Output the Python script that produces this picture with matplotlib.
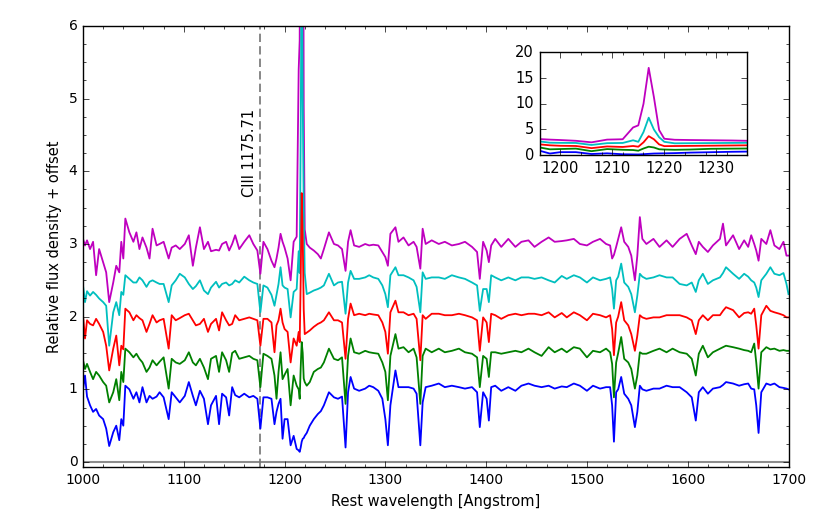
import matplotlib
matplotlib.use("Agg")
import matplotlib.pyplot as plt
from matplotlib.ticker import MultipleLocator, ScalarFormatter

plt.style.use('classic')
plt.rcParams['font.family'] = ['DejaVu Sans']
plt.rcParams['figure.facecolor'] = 'white'
plt.rcParams['savefig.facecolor'] = 'white'
plt.rcParams['axes.formatter.useoffset'] = False

# ---------------- data (offsets included) ----------------
wave = [1000, 1002, 1004, 1007, 1010, 1013, 1016, 1020, 1023, 1026, 1030, 1033, 1036, 1038, 1040, 1042, 1046, 1050, 1053, 1056,
        1059, 1063, 1066, 1069, 1073, 1076, 1080, 1085, 1088, 1092, 1096, 1101, 1105, 1109, 1112, 1116, 1120, 1124, 1127,
        1132, 1135, 1138, 1142, 1145, 1148, 1151, 1155, 1160, 1165, 1169, 1173, 1176, 1179, 1183, 1187, 1190, 1192, 1194, 1196,
        1198, 1200, 1203, 1206, 1209, 1212, 1214, 1215, 1216, 1217, 1218, 1219, 1220, 1222, 1225, 1229, 1233, 1236, 1239, 1244,
        1249, 1253, 1257,
        1260.5, 1263, 1265.5, 1269, 1274, 1280, 1284, 1288, 1293, 1297, 1300, 1302.5, 1305, 1310, 1313, 1318, 1323, 1328, 1331, 1334.7,
        1337, 1340, 1346, 1353, 1359, 1366, 1373, 1379, 1386, 1391, 1393.7, 1397, 1400.5, 1402.7, 1405, 1409, 1415, 1422, 1429, 1435,
        1442, 1448, 1455, 1462, 1468, 1475,
        1480, 1487, 1493, 1500, 1506, 1513, 1519, 1523, 1525, 1526.8, 1529, 1531, 1534, 1537, 1541, 1544, 1547.6, 1550, 1552.5, 1555,
        1559, 1566, 1572, 1579, 1585, 1592, 1599, 1604, 1608, 1611, 1615, 1620, 1625, 1632, 1635, 1638, 1645, 1651, 1656, 1660,
        1663, 1666, 1668, 1670.3, 1673, 1678, 1682, 1686, 1691, 1695, 1698, 1700]

flux_blue = [1.00, 1.19, 0.90, 0.78, 0.69, 0.73, 0.64, 0.59, 0.46, 0.22, 0.41, 0.50, 0.30, 0.59, 0.50, 1.05, 1.00, 0.87, 0.96, 0.82,
             1.03, 0.82, 0.91, 0.87, 0.90, 0.96, 0.89, 0.59, 0.96, 0.89, 0.82, 0.91, 1.10, 0.91, 0.78, 0.98, 0.87, 0.52, 0.78,
             0.91, 0.52, 0.94, 0.89, 0.64, 1.03, 0.92, 0.89, 0.94, 0.89, 0.91, 0.87, 0.46, 0.89, 0.89, 0.87, 0.52, 0.69, 0.80, 0.87,
             0.32, 0.59, 0.59, 0.23, 0.36, 0.18, 0.16, 0.14, 0.20, 0.28, 0.32, 0.33, 0.36, 0.40, 0.50, 0.59, 0.66, 0.70, 0.78, 0.96,
             0.89, 0.87, 0.90,
             0.20, 0.96, 1.17, 1.01, 0.98, 1.01, 1.05, 1.03, 0.98, 0.87, 0.59, 0.23, 0.78, 1.26, 1.03, 1.03, 1.03, 1.01, 0.94, 0.23,
             0.82, 1.03, 1.05, 1.08, 1.03, 1.05, 1.03, 1.01, 1.03, 0.96, 0.48, 0.96, 0.87, 0.57, 1.03, 1.05, 0.98, 1.03, 0.98, 1.05,
             1.08, 1.05, 1.03, 1.05, 1.01, 1.04,
             1.03, 1.08, 1.05, 0.98, 1.05, 1.01, 1.03, 1.03, 0.78, 0.28, 0.96, 1.00, 1.17, 0.94, 0.87, 0.78, 0.48, 0.69, 1.05, 1.00,
             0.98, 1.01, 1.01, 1.05, 1.03, 1.03, 0.96, 0.89, 0.57, 0.96, 1.03, 0.94, 1.01, 1.03, 1.06, 1.10, 1.08, 1.05, 1.07, 1.08,
             1.01, 1.00, 0.78, 0.40, 0.96, 1.08, 1.06, 1.08, 1.03, 1.02, 1.01, 1.00]

flux_green = [1.40, 1.28, 1.35, 1.24, 1.14, 1.24, 1.19, 1.10, 1.05, 0.82, 0.96, 1.14, 0.85, 1.24, 1.10, 1.56, 1.51, 1.44, 1.49, 1.42,
              1.37, 1.24, 1.30, 1.40, 1.33, 1.38, 1.44, 1.01, 1.42, 1.37, 1.35, 1.40, 1.51, 1.37, 1.33, 1.42, 1.30, 1.14, 1.42,
              1.46, 1.24, 1.51, 1.40, 1.24, 1.50, 1.53, 1.42, 1.44, 1.46, 1.42, 1.40, 1.03, 1.49, 1.46, 1.42, 1.19, 0.87, 1.24, 1.51,
              1.14, 1.20, 1.28, 0.78, 1.19, 1.05, 1.00, 0.87, 1.30, 1.65, 1.50, 1.15, 1.10, 1.05, 1.10, 1.24, 1.28, 1.30, 1.37, 1.56,
              1.42, 1.40, 1.44,
              0.80, 1.46, 1.70, 1.51, 1.49, 1.53, 1.51, 1.50, 1.49, 1.37, 1.24, 0.85, 1.46, 1.76, 1.56, 1.58, 1.51, 1.56, 1.44, 0.80,
              1.46, 1.56, 1.51, 1.56, 1.51, 1.53, 1.56, 1.51, 1.49, 1.44, 1.03, 1.46, 1.42, 1.17, 1.51, 1.51, 1.49, 1.51, 1.53, 1.51,
              1.56, 1.51, 1.46, 1.58, 1.51, 1.56,
              1.51, 1.58, 1.56, 1.44, 1.53, 1.51, 1.56, 1.51, 1.35, 0.89, 1.37, 1.50, 1.72, 1.42, 1.37, 1.28, 1.01, 1.19, 1.51, 1.49,
              1.49, 1.53, 1.56, 1.51, 1.56, 1.51, 1.49, 1.42, 1.19, 1.49, 1.60, 1.44, 1.51, 1.56, 1.58, 1.60, 1.58, 1.56, 1.54, 1.53,
              1.51, 1.63, 1.37, 1.01, 1.51, 1.58, 1.55, 1.56, 1.53, 1.54, 1.53, 1.53]

flux_red = [2.02, 1.70, 1.95, 1.90, 1.88, 1.97, 1.90, 1.79, 1.60, 1.26, 1.56, 1.74, 1.33, 1.60, 1.55, 2.11, 2.06, 1.95, 2.02, 1.98,
            1.95, 1.79, 1.90, 2.02, 1.92, 1.95, 1.97, 1.56, 2.02, 1.95, 1.98, 2.02, 2.04, 1.95, 1.88, 1.90, 1.97, 1.79, 1.90,
            1.97, 1.81, 2.06, 1.95, 1.88, 1.90, 2.02, 1.95, 1.97, 1.99, 1.97, 1.95, 1.60, 1.97, 1.97, 1.92, 1.51, 1.88, 1.95, 2.11,
            1.92, 1.83, 1.79, 1.37, 1.70, 1.60, 1.79, 1.65, 2.50, 3.70, 3.10, 2.10, 1.76, 1.78, 1.81, 1.86, 1.90, 1.92, 1.95, 2.06,
            1.95, 1.95, 1.92,
            1.42, 1.97, 2.18, 2.02, 2.04, 2.02, 2.04, 2.03, 2.02, 1.92, 1.79, 1.49, 2.06, 2.22, 2.06, 2.06, 2.02, 2.04, 1.97, 1.40,
            2.02, 1.97, 2.04, 2.04, 2.02, 2.02, 2.04, 2.02, 1.99, 1.95, 1.53, 1.99, 1.92, 1.65, 2.04, 2.02, 1.97, 2.02, 2.04, 2.02,
            2.04, 2.04, 2.02, 2.06, 1.99, 2.05,
            1.99, 2.06, 2.02, 1.95, 2.04, 2.02, 1.99, 2.02, 1.83, 1.47, 1.92, 2.00, 2.20, 1.95, 1.88, 1.76, 1.53, 1.74, 2.02, 1.99,
            1.97, 1.99, 1.99, 2.02, 2.02, 2.02, 1.99, 1.95, 1.76, 1.95, 2.02, 1.95, 2.02, 2.02, 2.08, 2.13, 2.09, 1.99, 2.05, 2.06,
            2.04, 2.11, 1.88, 1.56, 2.02, 2.15, 2.08, 2.06, 2.04, 2.02, 1.99, 1.99]

flux_cyan = [2.43, 2.20, 2.35, 2.29, 2.34, 2.30, 2.25, 2.20, 2.15, 1.60, 2.06, 2.20, 2.02, 2.34, 2.30, 2.57, 2.52, 2.47, 2.47, 2.54,
             2.50, 2.41, 2.48, 2.50, 2.47, 2.45, 2.45, 2.20, 2.43, 2.50, 2.59, 2.54, 2.45, 2.38, 2.42, 2.50, 2.36, 2.31, 2.40,
             2.48, 2.40, 2.45, 2.47, 2.43, 2.45, 2.50, 2.47, 2.55, 2.50, 2.47, 2.45, 2.06, 2.43, 2.40, 2.30, 2.15, 2.30, 2.45, 2.68,
             2.43, 2.40, 2.38, 1.99, 2.34, 2.38, 2.90, 2.60, 4.50, 7.30, 5.00, 3.50, 2.60, 2.31, 2.33, 2.36, 2.38, 2.40, 2.43, 2.59,
             2.43, 2.47, 2.48,
             2.04, 2.47, 2.63, 2.52, 2.52, 2.54, 2.57, 2.54, 2.52, 2.43, 2.31, 2.13, 2.57, 2.68, 2.57, 2.57, 2.54, 2.50, 2.41, 2.06,
             2.61, 2.52, 2.54, 2.54, 2.52, 2.57, 2.54, 2.52, 2.47, 2.43, 2.08, 2.38, 2.38, 2.20, 2.57, 2.54, 2.50, 2.54, 2.50, 2.54,
             2.54, 2.52, 2.54, 2.50, 2.47, 2.56,
             2.52, 2.57, 2.54, 2.47, 2.54, 2.50, 2.52, 2.54, 2.38, 2.11, 2.50, 2.55, 2.73, 2.47, 2.41, 2.31, 2.06, 2.29, 2.59, 2.55,
             2.52, 2.54, 2.57, 2.54, 2.54, 2.45, 2.43, 2.47, 2.34, 2.50, 2.59, 2.45, 2.50, 2.54, 2.60, 2.68, 2.59, 2.52, 2.59, 2.55,
             2.50, 2.47, 2.40, 2.27, 2.50, 2.59, 2.68, 2.59, 2.57, 2.60, 2.45, 2.31]

flux_magenta = [3.07, 2.98, 3.05, 2.93, 3.03, 2.57, 2.93, 2.75, 2.61, 2.20, 2.47, 2.70, 2.61, 3.03, 2.80, 3.35, 3.16, 3.03, 3.16, 2.93,
                3.09, 2.95, 2.80, 3.21, 2.98, 3.00, 3.03, 2.80, 2.95, 2.98, 2.93, 3.00, 3.12, 2.70, 2.95, 3.23, 2.93, 3.03, 2.90,
                2.92, 2.91, 3.00, 3.03, 2.91, 3.00, 3.12, 2.93, 3.03, 3.12, 3.00, 2.91, 2.59, 3.03, 2.93, 2.77, 2.68, 2.80, 2.95, 3.14,
                3.03, 2.95, 2.80, 2.50, 3.03, 3.10, 5.40, 5.80, 10.0, 17.0, 11.3, 4.90, 3.20, 3.00, 2.95, 2.91, 2.86, 2.80, 2.93, 3.16,
                3.00, 2.98, 2.93,
                2.63, 3.03, 3.19, 2.98, 2.96, 3.00, 2.98, 2.99, 2.98, 2.89, 2.82, 2.70, 3.14, 3.23, 3.03, 3.09, 2.98, 3.03, 2.96, 2.66,
                3.21, 3.00, 3.05, 3.00, 3.03, 2.98, 3.00, 3.03, 2.96, 2.89, 2.52, 3.03, 2.91, 2.75, 2.98, 3.07, 2.96, 3.07, 2.96, 3.03,
                3.05, 2.96, 3.03, 3.09, 3.03, 3.04,
                3.05, 3.07, 3.00, 2.98, 3.03, 3.07, 3.00, 2.98, 2.80, 2.85, 2.96, 3.07, 3.23, 3.03, 2.96, 2.84, 2.50, 2.84, 3.37, 3.07,
                3.00, 3.07, 2.96, 3.05, 2.96, 3.07, 3.14, 2.98, 2.86, 3.03, 2.96, 2.89, 2.98, 3.07, 3.28, 2.98, 3.12, 2.93, 3.05, 2.96,
                3.12, 3.00, 2.91, 2.77, 3.07, 3.00, 3.19, 2.98, 2.93, 3.03, 2.84, 2.84]

series = [flux_magenta, flux_cyan, flux_red, flux_green, flux_blue]
colors = ['m', 'c', 'r', 'g', 'b']
line_wave = 1175.71
line_label = 'CIII 1175.71'

for s in series:
    assert len(s) == len(wave), (len(s), len(wave))

# ---------------- figure ----------------
fig = plt.figure(figsize=(8.3, 5.19), dpi=100)
ax = fig.add_axes([0.1, 0.1, 0.85, 0.85])

ax.axhline(0, color='0.55', lw=1.5, zorder=1)
ax.axvline(line_wave, color='0.45', lw=1.2, ls=(0, (6, 3)), zorder=1)
for s, c in zip(series, colors):
    ax.plot(wave, s, color=c, lw=1.3, zorder=2)

ax.text(line_wave - 3, 3.65, line_label, rotation=90, ha='right', va='bottom', fontsize=10.5)

ax.set_xlim(1000, 1700)
ax.set_ylim(-0.07, 6)
ax.xaxis.set_major_locator(MultipleLocator(100))
ax.xaxis.set_minor_locator(MultipleLocator(20))
ax.yaxis.set_major_locator(MultipleLocator(1))
ax.yaxis.set_minor_locator(MultipleLocator(0.25))
ax.tick_params(labelsize=10)
ax.set_xlabel('Rest wavelength [Angstrom]', fontsize=10.5)
ax.set_ylabel('Relative flux density + offset', fontsize=10.5)

# inset
axi = fig.add_axes([0.65, 0.701, 0.2506, 0.198])
for s, c in zip(series, colors):
    axi.plot(wave, s, color=c, lw=1.3)
axi.set_xlim(1196, 1236)
axi.set_ylim(0, 20)
axi.xaxis.set_major_locator(MultipleLocator(10))
axi.xaxis.set_minor_locator(MultipleLocator(4))
axi.yaxis.set_major_locator(MultipleLocator(5))
fmt = ScalarFormatter(useOffset=False)
axi.xaxis.set_major_formatter(fmt)
axi.tick_params(labelsize=10.5)

fig.savefig('out.png', dpi=100)
